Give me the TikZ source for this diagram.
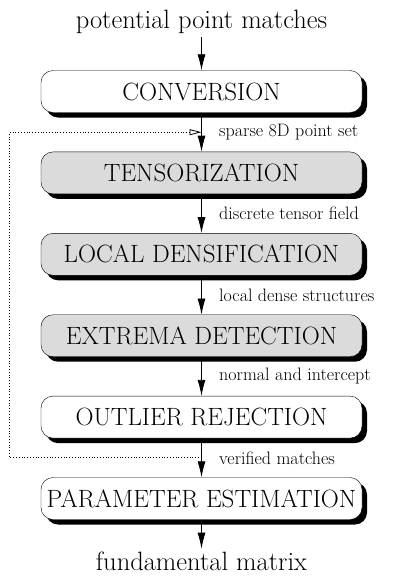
\documentclass[tikz,border=0pt]{standalone}
\usepackage{xcolor}
\usepackage{tikz}
\usetikzlibrary{arrows.meta, positioning, shadows}

\begin{document}
\begin{tikzpicture}[
  x=1pt, y=1pt,
  node distance=39pt,
  stage/.style={
    rectangle, rounded corners=12pt,
    draw=black, fill=white,
    minimum width=321pt, minimum height=42pt,
    inner xsep=2pt,
    font=\fontsize{25}{28}\selectfont,
    drop shadow={shadow xshift=5pt, shadow yshift=-5pt,
                 fill=black, opacity=1}},
  grey/.style={stage, fill=black!14},
  io/.style={font=\fontsize{26.5}{30}\selectfont},
  lbl/.style={anchor=west, xshift=14pt,
    font=\fontsize{18}{20}\selectfont},
  arr/.style={-{Latex[length=16pt,width=8pt]}, thick},
  fb/.style={dotted, thick, -{Triangle[open,length=12pt,width=6pt]}}
]

\useasboundingbox (0,0) rectangle (409,-584);

%% Processing stages
\node[stage] at (201.5,-91.5)  (conv)  {CONVERSION};
\node[grey,  below=of conv]    (tens)  {TENSORIZATION};
\node[grey,  below=of tens]    (dens)  {LOCAL DENSIFICATION};
\node[grey,  below=of dens]    (extr)  {EXTREMA DETECTION};
\node[stage, below=of extr]    (outl)  {OUTLIER REJECTION};
\node[stage, below=of outl]    (param) {PARAMETER ESTIMATION};

%% Input and output
\node[io, above=33pt of conv]  (src)  {potential point matches};
\node[io, below=29pt of param] (sink) {fundamental matrix};

%% Arrows
\draw[arr] (src)  -- (conv);
\draw[arr] (conv) -- coordinate (fbin)
  node[lbl] {sparse 8D point set} (tens);
\draw[arr] (tens) -- node[lbl] {discrete tensor field} (dens);
\draw[arr] (dens) -- node[lbl] {local dense structures} (extr);
\draw[arr] (extr) -- node[lbl] {normal and intercept} (outl);
\draw[arr] (outl) -- coordinate (fbout)
  node[lbl] {verified matches} (param);
\draw[arr] (param) -- (sink);

%% Feedback loop
\draw[fb] (fbout) -- ++(-192,0) |- (fbin);

\end{tikzpicture}
\end{document}
